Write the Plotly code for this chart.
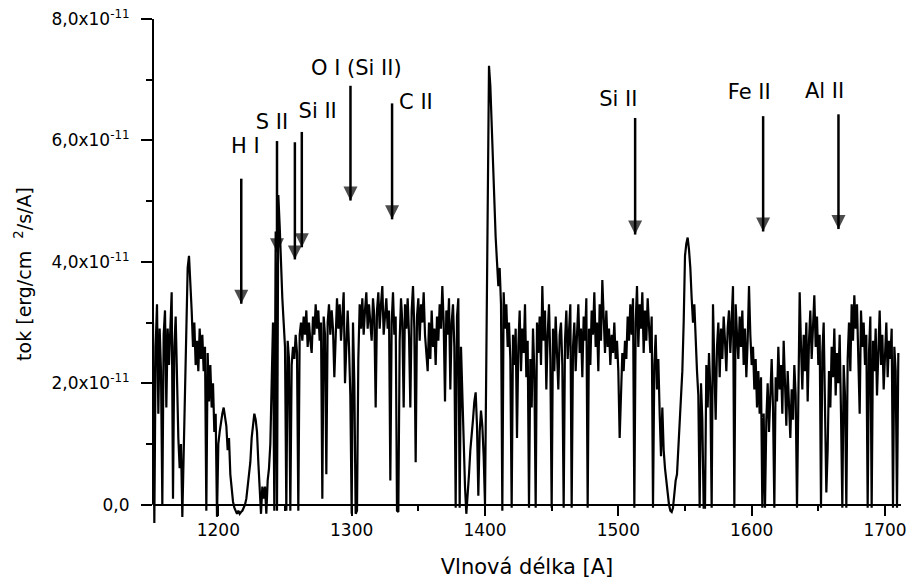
import plotly.graph_objects as go

# Wavelength grid [A] (1 A sampling) and flux in units of 1e-11 erg/cm2/s/A
wl_first = 1151
wl_last = 1710
wavelength = list(range(wl_first, wl_last + 1))

flux_e11 = [
    3.0, -0.3, 2.6, 3.3, 1.5, 2.9, 2.2, 0.0, 2.8, 3.2,      # 1151-1160
    1.6, 2.9, 2.3, 3.0, 3.5, 0.1, 2.6, 3.1, 2.0, 1.1,       # 1161-1170
    0.6, 1.0, -0.2, 0.9, 2.2, 3.3, 3.9, 4.1, 3.7, 3.2,      # 1171-1180
    2.6, 3.0, 2.3, 2.7, 2.2, 2.9, 2.4, 2.8, 2.2, 2.6,       # 1181-1190
    -0.1, 2.5, 1.7, 2.3, 1.6, 2.0, 1.2, 1.5, -0.2, 1.0,     # 1191-1200
    1.2, 1.4, 1.5, 1.6, 1.4, 1.3, 0.9, 1.1, 0.5, 0.2,       # 1201-1210
    0.05, -0.05, -0.1, -0.15, -0.1, -0.15, -0.12, -0.1, -0.05, 0.0,  # 1211-1220
    0.1, 0.3, 0.6, 0.7, 1.1, 1.3, 1.5, 1.4, 1.2, 0.7,       # 1221-1230
    0.2, -0.15, 0.3, 0.1, 0.3, -0.15, 0.4, 0.6, 1.0, 1.9,   # 1231-1240
    3.0, -0.1, 4.5, -0.1, 5.1, 4.6, 3.8, 3.4, 3.0, 2.6,     # 1241-1250
    -0.1, 2.7, 2.4, -0.1, 2.3, 2.6, 2.4, 2.8, 2.5, -0.1,    # 1251-1260
    2.8, 3.0, 2.7, 3.1, 2.8, 3.2, 2.6, 3.0, 2.7, 2.5,       # 1261-1270
    3.1, 2.8, 3.3, 2.9, 3.2, 2.7, 3.0, 0.1, 3.1, 2.8,       # 1271-1280
    0.5, 3.0, 3.3, 2.8, 3.2, 2.9, 2.1, 3.0, 3.4, 2.9,       # 1281-1290
    3.3, 2.7, 3.1, 3.5, 2.0, 2.8, 3.2, 2.6, 1.8, -0.15,     # 1291-1300
    3.0, 2.0, -0.15, -0.1, 2.4, 3.3, 2.9, 3.4, 2.8, 3.2,    # 1301-1310
    3.5, 2.9, 3.3, 3.0, 2.7, 3.4, 3.1, 1.6, 3.2, 3.5,       # 1311-1320
    2.9, 3.3, 3.6, 2.8, 3.1, 3.4, 2.9, 3.2, 0.4, 3.0,       # 1321-1330
    3.5, 2.8, 3.1, -0.1, -0.12, 2.7, 3.4, 3.0, 1.6, 3.3,    # 1331-1340
    2.9, 3.4, 2.8, 1.6, 3.2, 3.6, 2.9, 0.7, 3.1, 3.4,       # 1341-1350
    2.7, 3.3, 3.0, 3.5, 2.8, 2.5, 2.2, 3.0, 2.4, 3.2,       # 1351-1360
    2.6, 2.9, 2.3, 3.1, 2.7, 3.3, 2.9, 3.6, 3.0, 1.7,       # 1361-1370
    3.2, 2.8, 3.4, 1.9, 3.0, 3.3, 2.6, -0.05, 3.1, 3.4,     # 1371-1380
    -0.05, 2.6, 1.8, 1.0, 0.3, -0.15, 0.3, 0.5, 0.9, 1.1,   # 1381-1390
    1.4, 1.7, 1.85, 1.3, 0.15, 1.2, 1.55, 1.3, 0.8, 0.0,    # 1391-1400
    2.5, 5.0, 7.23, 6.9, 6.2, 5.6, 5.2, 4.4, 4.0, 3.6,      # 1401-1410
    3.9, 3.3, -0.1, 3.5, 2.9, 3.3, 2.6, 3.0, 2.4, -0.05,    # 1411-1420
    2.8, 2.3, 2.9, 1.1, 2.6, 3.2, 2.2, 2.9, 2.5, 3.3,       # 1421-1430
    2.1, 2.7, -0.05, 2.4, 1.6, 2.9, 2.2, -0.05, 3.0, 2.5,   # 1431-1440
    3.1, 2.3, 3.6, 2.7, 3.2, 1.9, 2.8, 3.3, 2.4, -0.05,     # 1441-1450
    2.9, 2.2, 3.1, 2.6, 1.9, 2.8, 3.0, 2.3, -0.05, 2.7,     # 1451-1460
    3.2, 2.4, 2.9, 3.3, -0.05, 2.6, 3.0, 2.2, 2.8, 3.3,     # 1461-1470
    2.5, 2.9, 2.1, 3.1, 2.7, 3.4, -0.05, 2.9, 2.3, 3.2,     # 1471-1480
    2.8, 3.5, 2.6, 3.0, 2.2, 3.3, 2.7, 3.7, 3.1, 2.5,       # 1481-1490
    3.2, 2.6, 2.9, 2.3, 2.8, 2.5, 3.0, 2.4, 2.7, 2.2,       # 1491-1500
    1.1, 2.0, 2.5, 2.2, 2.7, 2.4, 3.1, 2.7, 3.3, 2.8,       # 1501-1510
    3.4, -0.05, 3.0, 3.6, 2.6, 3.3, 2.9, 3.5, 2.5, 3.2,     # 1511-1520
    2.7, 3.4, 2.8, 2.5, 3.1, -0.05, 2.3, 2.8, 1.9, 2.4,     # 1521-1530
    1.5, 0.8, 1.6, 0.9, 0.6, 0.4, 0.15, 0.0, -0.1, -0.12,   # 1531-1540
    -0.05, 0.2, 0.4, 0.5, 0.9, 1.4, 1.8, 2.2, 3.0, 4.1,     # 1541-1550
    4.3, 4.4, 4.2, 3.9, 3.4, 3.0, 3.3, 2.6, 2.2, 1.8,       # 1551-1560
    -0.05, 2.0, 1.4, -0.05, -0.05, 2.3, 1.6, 2.5, 1.9, -0.05,  # 1561-1570
    3.3, 2.3, 1.4, 2.6, 3.0, 2.1, 2.9, 2.4, 3.1, 2.7,       # 1571-1580
    2.2, 2.9, 3.2, 2.5, 3.0, 3.6, -0.05, 3.3, 2.8, 2.4,     # 1581-1590
    3.1, 2.6, 3.2, 2.3, 2.9, 2.1, 2.7, 3.6, 2.8, 2.3,       # 1591-1600
    2.6, 1.9, 2.4, 1.6, 2.2, 1.5, 2.1, -0.05, 1.5, -0.05,   # 1601-1610
    1.4, 2.0, 1.2, 1.8, 2.4, 1.6, -0.05, 2.1, 1.7, 2.6,     # 1611-1620
    1.9, 2.3, 1.5, 2.7, 2.0, 1.3, 2.2, 1.7, 1.1, 1.9,       # 1621-1630
    1.4, 2.3, 1.8, -0.05, 2.4, 3.5, 2.6, 1.9, 2.8, 2.2,     # 1631-1640
    3.0, 1.7, 2.7, 3.2, 2.4, 2.9, 3.45, 2.6, 3.1, 2.3,      # 1641-1650
    2.8, -0.05, 2.5, 3.0, 1.4, 0.2, 0.9, 2.2, 1.6, 2.6,     # 1651-1660
    2.1, 2.9, 1.8, 2.5, 2.0, 2.8, 1.5, -0.05, 2.3, 1.8,     # 1661-1670
    -0.05, 2.4, 3.0, 2.2, 3.3, 2.7, 3.45, 2.9, 3.3, 2.5,    # 1671-1680
    1.5, 3.2, 2.6, 3.0, 2.3, 2.8, -0.05, 2.5, 3.1, -0.05,   # 1681-1690
    2.7, 2.2, 2.9, 1.8, 2.6, 3.2, 2.3, 2.8, 1.9, 2.5,       # 1691-1700
    3.0, 2.1, 2.7, 2.4, 2.9, -0.05, 2.6, 2.2, -0.05, 2.5,   # 1701-1710
]
flux = [v * 1e-11 for v in flux_e11]

# Line identifications: arrow wavelength, arrow tail / tip flux (1e-11)
line_wl = [1217.2, 1244.0, 1257.4, 1262.6, 1299.1, 1330.3, 1512.6, 1608.6, 1665.1]
arrow_tail = [5.37, 5.99, 5.97, 6.14, 6.90, 6.61, 6.37, 6.40, 6.43]
arrow_tip = [3.31, 4.16, 4.04, 4.24, 5.01, 4.70, 4.45, 4.50, 4.54]
# Ion labels and their positions
ion_labels = ["H I", "S II", "Si II", "O I (Si II)", "C II", "Si II", "Fe II", "Al II"]
label_wl = [1220.2, 1240.3, 1274.5, 1303.5, 1348.2, 1500.0, 1598.2, 1654.7]
label_flux = [5.88, 6.28, 6.45, 7.17, 6.61, 6.66, 6.77, 6.79]

y_tickvals = [0, 2e-11, 4e-11, 6e-11, 8e-11]
y_ticktext = ["0,0", "2,0x10<sup>-11</sup>", "4,0x10<sup>-11</sup>",
              "6,0x10<sup>-11</sup>", "8,0x10<sup>-11</sup>"]
y_minor = [1e-11, 3e-11, 5e-11, 7e-11]

FONT = "DejaVu Sans"
y_lo, y_hi = -0.4e-11, 8.0e-11

fig = go.Figure()
fig.add_trace(go.Scatter(x=wavelength, y=flux, mode="lines",
                         line=dict(color="black", width=2.2), showlegend=False,
                         hoverinfo="skip"))

# arrows: shaft + downward arrow head whose tip sits on the data point
for xw, yt, yp in zip(line_wl, arrow_tail, arrow_tip):
    fig.add_trace(go.Scatter(
        x=[xw, xw], y=[yt * 1e-11, yp * 1e-11], mode="lines+markers",
        line=dict(color="black", width=2.5),
        marker=dict(symbol="arrow-down", size=[0, 14], color="black",
                    line=dict(width=0)),
        showlegend=False, hoverinfo="skip"))

# ion labels
fig.add_trace(go.Scatter(
    x=label_wl, y=[v * 1e-11 for v in label_flux], mode="text", text=ion_labels,
    textposition="middle center", textfont=dict(family=FONT, size=21, color="black"),
    showlegend=False, hoverinfo="skip", cliponaxis=False))

fig.update_layout(
    width=914, height=582,
    margin=dict(l=153, r=7, t=15, b=53),
    paper_bgcolor="white", plot_bgcolor="white",
    font=dict(family=FONT, size=17, color="black"),
    shapes=[dict(type="line", xref="paper", yref="y", x0=0, x1=0, y0=0, y1=y_hi,
                 line=dict(color="black", width=2))],
    xaxis=dict(range=[1151, 1712], anchor="free", position=(0 - y_lo) / (y_hi - y_lo),
               showline=True, linecolor="black", linewidth=2, showgrid=False, zeroline=False,
               ticks="outside", ticklen=10, tickwidth=2, tickcolor="black",
               tick0=1200, dtick=100, ticklabelstandoff=0,
               tickfont=dict(family=FONT, size=17, color="black"),
               title=dict(text="Vlnová délka [A]", standoff=19,
                          font=dict(family=FONT, size=21, color="black")),
               minor=dict(ticks="outside", ticklen=5, tickwidth=2, tickcolor="black",
                          tick0=1150, dtick=50, showgrid=False)),
    yaxis=dict(range=[y_lo, y_hi], showline=False, showgrid=False, zeroline=False,
               ticks="outside", ticklen=11, tickwidth=2, tickcolor="black",
               tickmode="array", tickvals=y_tickvals, ticktext=y_ticktext,
               ticklabelstandoff=8,
               tickfont=dict(family=FONT, size=17, color="black"),
               title=dict(text="tok [erg/cm  <sup>2</sup>/s/A]", standoff=14,
                          font=dict(family=FONT, size=19, color="black")),
               minor=dict(ticks="outside", ticklen=6, tickwidth=2, tickcolor="black",
                          tickvals=y_minor, showgrid=False)),
)

fig.write_html("out.html")
